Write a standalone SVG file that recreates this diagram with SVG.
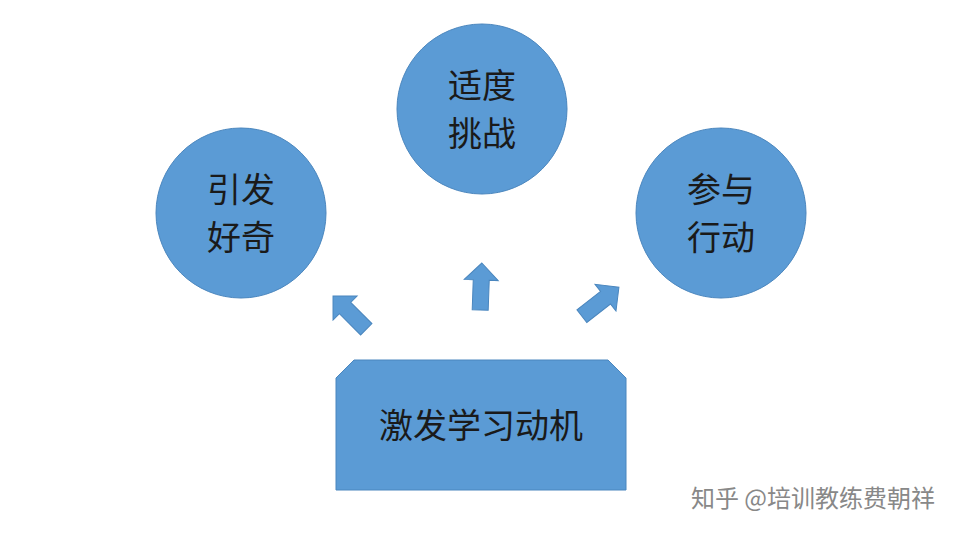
<svg xmlns="http://www.w3.org/2000/svg" width="960" height="540" viewBox="0 0 960 540">
<style>
.c{fill:#5B9BD5;stroke:#4A86BE;stroke-width:1}
.t{font-family:"Noto Sans CJK SC",sans-serif;font-size:34px;fill:#1a1a1a;text-anchor:middle}
.a{fill:#5B9BD5;stroke:#4A86BE;stroke-width:1}
</style>
<defs><path id="arr" d="M0,-24 L17,-7 L8,-7 L8,23 L-8,23 L-8,-7 L-17,-7 Z"/></defs>
<rect width="960" height="540" fill="#fff"/>
<g id="n1"><circle class="c" cx="241" cy="213" r="85"/><text class="t" x="241" y="202">引发</text><text class="t" x="241" y="250">好奇</text></g>
<g id="n2"><circle class="c" cx="482" cy="109" r="85"/><text class="t" x="482" y="98">适度</text><text class="t" x="482" y="146">挑战</text></g>
<g id="n3"><circle class="c" cx="721" cy="213" r="85"/><text class="t" x="721" y="202">参与</text><text class="t" x="721" y="250">行动</text></g>
<g id="n4"><path class="c" d="M354,360 L608,360 L626,378 L626,490 L336,490 L336,378 Z"/><text class="t" x="481" y="438">激发学习动机</text></g>
<g id="connectors">
<use href="#arr" class="a" transform="translate(350,313) rotate(-45)"/>
<use href="#arr" class="a" transform="translate(481,287) rotate(2)"/>
<use href="#arr" class="a" transform="translate(600,302) rotate(52)"/>
</g>
<text x="935" y="507" font-family="Noto Sans CJK SC,sans-serif" font-size="24" fill="#888" text-anchor="end">知乎 @培训教练费朝祥</text>
</svg>
